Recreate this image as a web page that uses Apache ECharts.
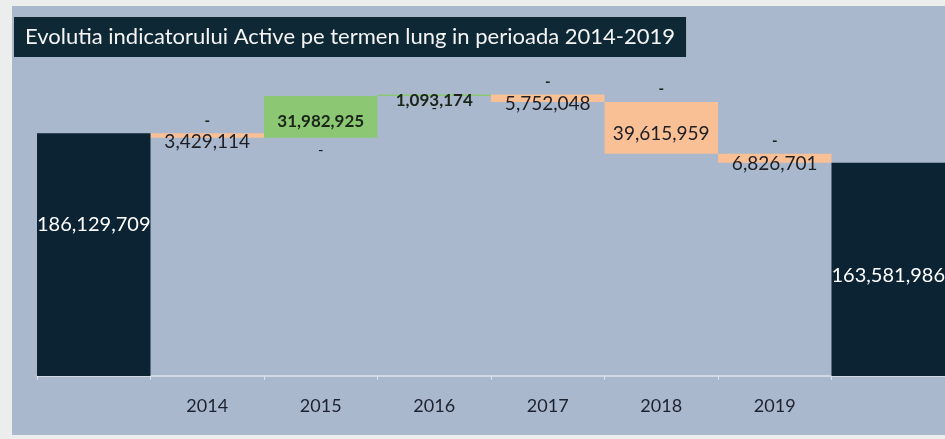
<!DOCTYPE html>
<html>
<head>
<meta charset="utf-8">
<script src="https://cdn.jsdelivr.net/npm/echarts@6/dist/echarts.min.js"></script>
<style>
    html, body { margin: 0; padding: 0; background: #eceeee; }
    #chart { width: 945px; height: 439px; }
</style>
</head>
<body>
<div id="chart"></div>
<script>
// waterfall data: opening total, yearly changes, closing total
var categories = ['', '2014', '2015', '2016', '2017', '2018', '2019', ''];
var startValue = 186129709;
var endValue = 163581986;
var changes = [-3429114, 31982925, 1093174, -5752048, -39615959, -6826701];

var myChart = echarts.init(document.getElementById('chart'));

function fmt(v) {
    return v === 0 ? '-' : echarts.format.addCommas(v);
}

// build stacked series from the changes
var base = ['-'], dec = ['-'], inc = ['-'];
var totals = [{ value: startValue, label: { offset: [0, -30] } }];
var running = startValue;
changes.forEach(function (c) {
    if (c < 0) {
        base.push(running + c);
        dec.push(-c);
        inc.push({ value: 0, label: { position: 'top', offset: [0, 0], fontSize: 15 } });
    } else {
        base.push(running);
        dec.push({ value: 0, label: { position: 'bottom', offset: [0, 0], fontSize: 15 } });
        inc.push(c);
    }
    running += c;
    totals.push('-');
});
base.push('-');
dec.push('-');
inc.push('-');
totals.push({ value: endValue, label: { offset: [0, 6] } });

var labelFont = 'Lato, "Open Sans", sans-serif';

var option = {
    animation: false,
    title: {
        text: 'Evolutia indicatorului Active pe termen lung in perioada 2014-2019',
        left: 14,
        top: 17,
        padding: [9, 11, 9, 11],
        backgroundColor: '#0e2836',
        textStyle: {
            color: '#f4f4f4',
            fontSize: 22,
            fontWeight: 'normal',
            fontFamily: labelFont
        }
    },
    graphic: [
        {
            type: 'rect',
            z: -10,
            silent: true,
            shape: { x: 12, y: 6, width: 933, height: 429 },
            style: { fill: '#a9b8cc' }
        }
    ],
    grid: {
        left: 37,
        right: -5,
        top: 63,
        bottom: 63
    },
    xAxis: {
        type: 'category',
        data: categories,
        axisLine: { lineStyle: { color: '#dde2ea', width: 1.5 } },
        axisTick: { show: true, length: 4, lineStyle: { color: '#dde2ea' } },
        axisLabel: {
            margin: 21,
            color: '#1e2230',
            fontSize: 18,
            fontFamily: labelFont
        }
    },
    yAxis: {
        type: 'value',
        min: 0,
        max: 240000000,
        show: false,
        splitLine: { show: false }
    },
    series: [
        {
            name: 'base',
            type: 'bar',
            stack: 'w',
            silent: true,
            barCategoryGap: 0,
            itemStyle: { color: 'transparent' },
            data: base
        },
        {
            name: 'Scadere',
            type: 'bar',
            stack: 'w',
            barCategoryGap: 0,
            itemStyle: { color: '#f9bf95' },
            label: {
                show: true,
                position: 'inside',
                offset: [0, 6],
                color: '#1e1e26',
                fontSize: 19,
                fontFamily: labelFont,
                formatter: function (p) { return fmt(p.value); }
            },
            data: dec
        },
        {
            name: 'Crestere',
            type: 'bar',
            stack: 'w',
            barCategoryGap: 0,
            itemStyle: { color: '#8cc874' },
            label: {
                show: true,
                position: 'inside',
                offset: [0, 5],
                color: '#1b2418',
                fontSize: 17,
                fontWeight: 'bold',
                fontFamily: labelFont,
                formatter: function (p) { return fmt(p.value); }
            },
            data: inc
        },
        {
            name: 'Total',
            type: 'bar',
            stack: 'w',
            barCategoryGap: 0,
            itemStyle: { color: '#0b2332' },
            label: {
                show: true,
                position: 'inside',
                color: '#ffffff',
                fontSize: 20,
                fontFamily: labelFont,
                formatter: function (p) { return fmt(p.value); }
            },
            data: totals
        }
    ]
};

myChart.setOption(option);
</script>
</body>
</html>
